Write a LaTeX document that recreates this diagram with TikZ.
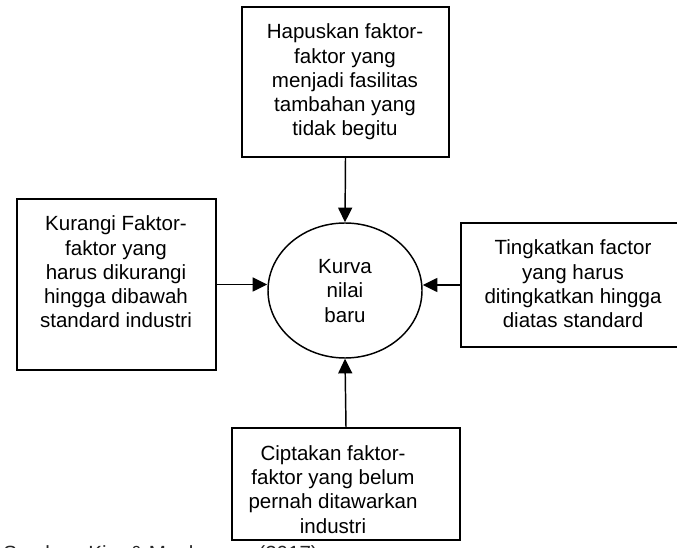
\documentclass[tikz,border=0pt]{standalone}
\usepackage{fontspec}
\setmainfont{Liberation Sans}
\usetikzlibrary{shapes.geometric,arrows.meta}
\tikzset{
  boxshape/.style={draw, line width=1.3pt, rectangle, inner sep=0pt},
  txt/.style={align=center, inner sep=0pt, font=\fontsize{15.4}{18.2}\selectfont},
  arr/.style={line width=1.1pt, -{Triangle[length=11pt,width=10.5pt]}},
}
\begin{document}
\begin{tikzpicture}[x=0.75pt,y=-0.75pt]
\useasboundingbox (0,0) rectangle (677,548);
% boxes
\node[boxshape, minimum width=207*0.75pt, minimum height=150*0.75pt] (tbox) at (345.5,82) {};
\node[boxshape, minimum width=199*0.75pt, minimum height=171*0.75pt] (lbox) at (116.5,284.5) {};
\node[boxshape, minimum width=230*0.75pt, minimum height=124*0.75pt] (rbox) at (576,285) {};
\node[boxshape, minimum width=228*0.75pt, minimum height=112*0.75pt] (bbox) at (346,484) {};
\node[draw, ellipse, line width=1.1pt, minimum width=154*0.75pt, minimum height=135*0.75pt, inner sep=0pt] (ell) at (345,290.5) {};
% texts
\node[txt] (ttxt) at (345,82) {Hapuskan faktor-\\faktor yang\\menjadi fasilitas\\tambahan yang\\tidak begitu};
\node[txt] (ltxt) at (116,272) {Kurangi Faktor-\\faktor yang\\harus dikurangi\\hingga dibawah\\standard industri};
\node[txt] (rtxt) at (573,284) {Tingkatkan factor\\yang harus\\ditingkatkan hingga\\diatas standard};
\node[txt] (btxt) at (333,489.5) {Ciptakan faktor-\\faktor yang belum\\pernah ditawarkan\\industri};
\node[txt] (etxt) at (345,291) {Kurva\\nilai\\baru};
\node[txt, anchor=base west, text=black!85] (cap) at (3,560) {Sumber: Kim \& Mauborgne (2017)};
% connectors
\draw[arr] (tbox.south) -- (ell.north);
\draw[arr] (lbox.east) -- (lbox.east -| ell.west);
\draw[arr] (rbox.west) -- (rbox.west -| ell.east);
\draw[arr] (bbox.north) -- (ell.south);
\end{tikzpicture}
\end{document}
